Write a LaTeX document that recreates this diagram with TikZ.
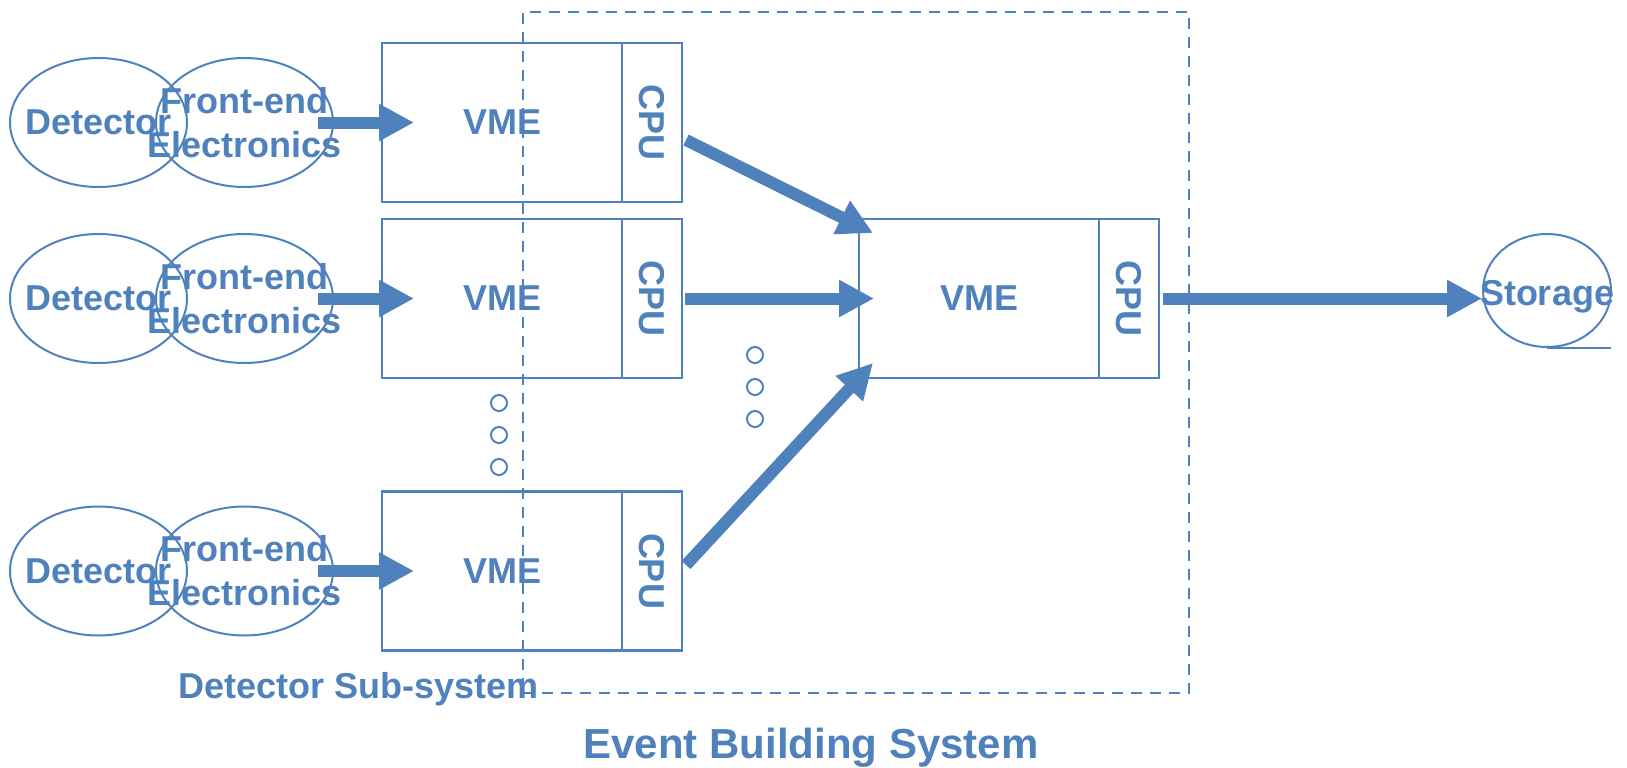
\documentclass[tikz,border=0pt]{standalone}
\usepackage{fontspec}
\setmainfont{Liberation Sans}
\usetikzlibrary{positioning,arrows.meta,shapes.geometric}
\definecolor{ofblue}{RGB}{79,129,189}
\newcommand{\lblfont}{\fontsize{36}{44}\selectfont\bfseries}

\begin{document}
\begin{tikzpicture}[
    x=1pt, y=-1pt,
    >={Triangle[length=35pt,width=35pt]},
    every node/.style={text=ofblue, font=\lblfont},
    blob/.style={ellipse, draw=ofblue, line width=2pt, minimum width=177pt, minimum height=129pt, inner sep=0pt},
    vme/.style={rectangle, draw=ofblue, line width=2.2pt, minimum width=240pt, minimum height=159pt, inner sep=0pt, outer sep=0pt},
    cpu/.style={vme, minimum width=60pt},
    ring/.style={circle, draw=ofblue, line width=2pt, minimum size=16pt, inner sep=0pt},
    flow/.style={->, color=ofblue, line width=12pt}
]
\useasboundingbox (0,0) rectangle (1627,768);

% event building frame
\node[draw=ofblue, line width=2pt, dash pattern=on 11pt off 8pt, minimum width=666pt, minimum height=681pt, inner sep=0pt] (ebs) at (856,352.5) {};

% detector sub-systems
\node[blob, label=center:Detector] (det1) at (98.5,122.5) {};
\node[blob, right=-33pt of det1, label={[align=center]center:{Front-end\\Electronics}}] (fe1) {};
\node[vme, right=48pt of fe1] (vme1) {VME};
\node[cpu, right=0pt of vme1] (cpu1) {\rotatebox{-90}{CPU}};

\node[blob, label=center:Detector] (det2) at (98.5,298.5) {};
\node[blob, right=-33pt of det2, label={[align=center]center:{Front-end\\Electronics}}] (fe2) {};
\node[vme, right=48pt of fe2] (vme2) {VME};
\node[cpu, right=0pt of vme2] (cpu2) {\rotatebox{-90}{CPU}};

\node[blob, label=center:Detector] (det3) at (98.5,571) {};
\node[blob, right=-33pt of det3, label={[align=center]center:{Front-end\\Electronics}}] (fe3) {};
\node[vme, right=48pt of fe3] (vme3) {VME};
\node[cpu, right=0pt of vme3] (cpu3) {\rotatebox{-90}{CPU}};

\node[ring] (v1) at (499,403) {};
\node[ring] (v2) at (499,435) {};
\node[ring] (v3) at (499,467) {};

% builder and storage
\node[vme] (vmeC) at (979,298.5) {VME};
\node[cpu, right=0pt of vmeC] (cpuC) {\rotatebox{-90}{CPU}};

\node[ring] (c1) at (755,355) {};
\node[ring] (c2) at (755,387) {};
\node[ring] (c3) at (755,419) {};

\node[blob, minimum width=128pt, minimum height=113pt, label={[yshift=-6pt]center:Storage}] (stor) at (1547,290.5) {};
\draw[ofblue, line width=2pt] (stor.south) -- ++(64,0);

\node[anchor=base] (dss) at (358.5,698) {Detector Sub-system};
\node[anchor=base, font=\fontsize{42}{50}\selectfont\bfseries] (ebst) at (811,758) {Event Building System};

\path[flow]
([xshift=-16pt]fe1.east) edge ([xshift=32pt]vme1.west)
([xshift=-16pt]fe2.east) edge ([xshift=32pt]vme2.west)
([xshift=-16pt]fe3.east) edge ([xshift=32pt]vme3.west)
([shift={(4,17.5)}]cpu1.east) edge ([shift={(14,-65.5)}]vmeC.west)
([shift={(3,0)}]cpu2.east) edge ([shift={(15,0)}]vmeC.west)
([shift={(4,-6)}]cpu3.east) edge ([shift={(14,64.5)}]vmeC.west)
([xshift=4pt]cpuC.east) edge (cpuC.east -| stor.west);

\end{tikzpicture}
\end{document}
